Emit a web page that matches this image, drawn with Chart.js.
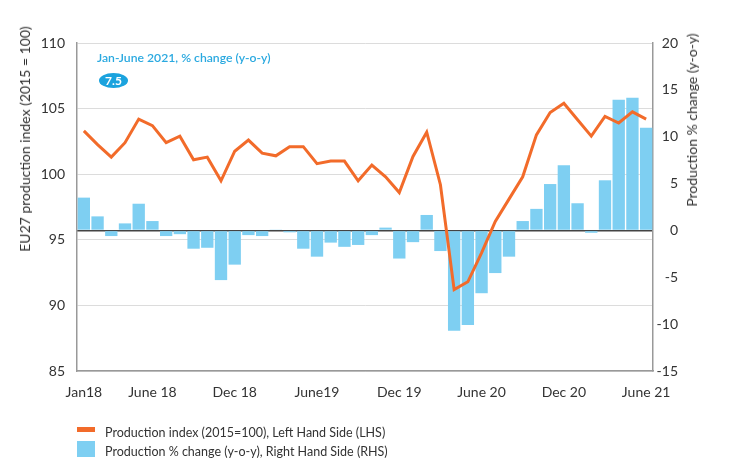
<!DOCTYPE html>
<html><head><meta charset="utf-8">
<script src="https://cdn.jsdelivr.net/npm/chart.js@4"></script>
<style>
html,body{margin:0;padding:0;background:#fff;}
#wrap{position:relative;width:744px;height:469px;font-family:Lato,"Noto Sans",sans-serif;overflow:hidden;}
#c{position:absolute;left:0;top:0;}
.t{position:absolute;white-space:nowrap;color:#333;line-height:1;}
</style></head><body>
<div id="wrap">
<canvas id="c" width="744" height="469"></canvas>
<div class="t" id="lt" style="left:25px;top:139px;font-size:14px;transform:translate(-50%,-50%) rotate(-90deg);">EU27 production index (2015 = 100)</div>
<div class="t" id="rt" style="left:692px;top:120px;font-size:14px;transform:translate(-50%,-50%) rotate(-90deg);">Production % change (y-o-y)</div>
<div class="t" id="ann" style="left:97px;top:52px;font-size:12.2px;font-weight:600;color:#2aa9e0;">Jan-June 2021, % change (y-o-y)</div>
<div class="t" id="badge" style="left:99px;top:73px;width:29px;height:15px;border-radius:50%;background:#1ba3de;color:#fff;font-size:12px;font-weight:700;text-align:center;line-height:15px;">7.5</div>
<div style="position:absolute;left:77px;top:427px;width:18px;height:5px;background:#f26b2a;"></div>
<div class="t" style="left:105px;top:427px;font-size:12.5px;">Production index (2015=100), Left Hand Side (LHS)</div>
<div style="position:absolute;left:77px;top:441px;width:18px;height:16px;background:#7ecff2;"></div>
<div class="t" style="left:105px;top:446px;font-size:12.5px;">Production % change (y-o-y), Right Hand Side (RHS)</div>
</div>
<script>
const months = ['2018-01','2018-02','2018-03','2018-04','2018-05','2018-06','2018-07','2018-08','2018-09','2018-10','2018-11','2018-12',
'2019-01','2019-02','2019-03','2019-04','2019-05','2019-06','2019-07','2019-08','2019-09','2019-10','2019-11','2019-12',
'2020-01','2020-02','2020-03','2020-04','2020-05','2020-06','2020-07','2020-08','2020-09','2020-10','2020-11','2020-12',
'2021-01','2021-02','2021-03','2021-04','2021-05','2021-06'];
const tickMonths = ['2018-01','2018-06','2018-12','2019-06','2019-12','2020-06','2020-12','2021-06'];
const tickLabels = ['Jan18','June 18','Dec 18','June19','Dec 19','June 20','Dec 20','June 21'];
const productionIndex = [103.3,102.25,101.3,102.4,104.2,103.7,102.4,102.9,101.1,101.3,99.5,101.75,
102.6,101.6,101.4,102.1,102.1,100.8,101.0,101.0,99.5,100.7,99.8,98.6,
101.35,103.2,99.2,91.2,91.8,94.0,96.4,98.1,99.8,103.0,104.7,105.4,
104.15,102.9,104.4,103.9,104.75,104.2];
const pctChange = [3.5,1.5,-0.6,0.75,2.85,1.0,-0.6,-0.4,-1.95,-1.85,-5.3,-3.65,
-0.5,-0.6,0.1,-0.2,-1.95,-2.8,-1.3,-1.75,-1.55,-0.5,0.3,-3.0,
-1.25,1.65,-2.2,-10.7,-10.1,-6.7,-4.55,-2.8,1.0,2.3,4.95,6.95,
2.9,-0.25,5.35,13.95,14.15,10.95];
const seriesNames = ['Production index (2015=100), Left Hand Side (LHS)','Production % change (y-o-y), Right Hand Side (RHS)'];

const FONT = {family:'Lato', size:14};
new Chart(document.getElementById('c'), {
  data: {
    labels: months,
    datasets: [
      {type:'line', label:seriesNames[0], data:productionIndex, yAxisID:'y', borderColor:'#f26b2a', borderWidth:3, pointRadius:0, tension:0, order:0},
      {type:'bar', label:seriesNames[1], data:pctChange, yAxisID:'y1', backgroundColor:'#7ecff2', barPercentage:0.9, categoryPercentage:1.0, order:1}
    ]
  },
  options: {
    responsive:false, animation:false, devicePixelRatio:1,
    layout:{padding:{left:0,right:66,top:43,bottom:0}},
    plugins:{legend:{display:false}, tooltip:{enabled:false}},
    scales:{
      x:{
        grid:{display:false, drawTicks:false},
        border:{display:true, color:'#999', width:1.5},
        ticks:{autoSkip:false, maxRotation:0, padding:13, color:'#333', font:FONT,
          callback:function(v,i){ const k = tickMonths.indexOf(months[i]); return k>=0 ? tickLabels[k] : ''; }},
        afterFit:function(s){ s.height = 98; }
      },
      y:{
        position:'left', min:85, max:110,
        ticks:{stepSize:5, padding:12, color:'#333', font:FONT},
        grid:{color:'#dcdcdc', lineWidth:1, drawTicks:false},
        border:{display:true, color:'#999', width:1.5},
        afterFit:function(s){ s.width = 77; }
      },
      y1:{
        position:'right', min:-15, max:20,
        ticks:{stepSize:5, padding:4, color:'#333', font:FONT, crossAlign:'far'},
        grid:{drawTicks:false, lineWidth:1.5, color:function(c){ return c.tick && c.tick.value===0 ? '#444' : 'rgba(0,0,0,0)'; }},
        border:{display:true, color:'#999', width:1.5},
        afterFit:function(s){ s.width = 25; }
      }
    }
  }
});
</script>
</body></html>
